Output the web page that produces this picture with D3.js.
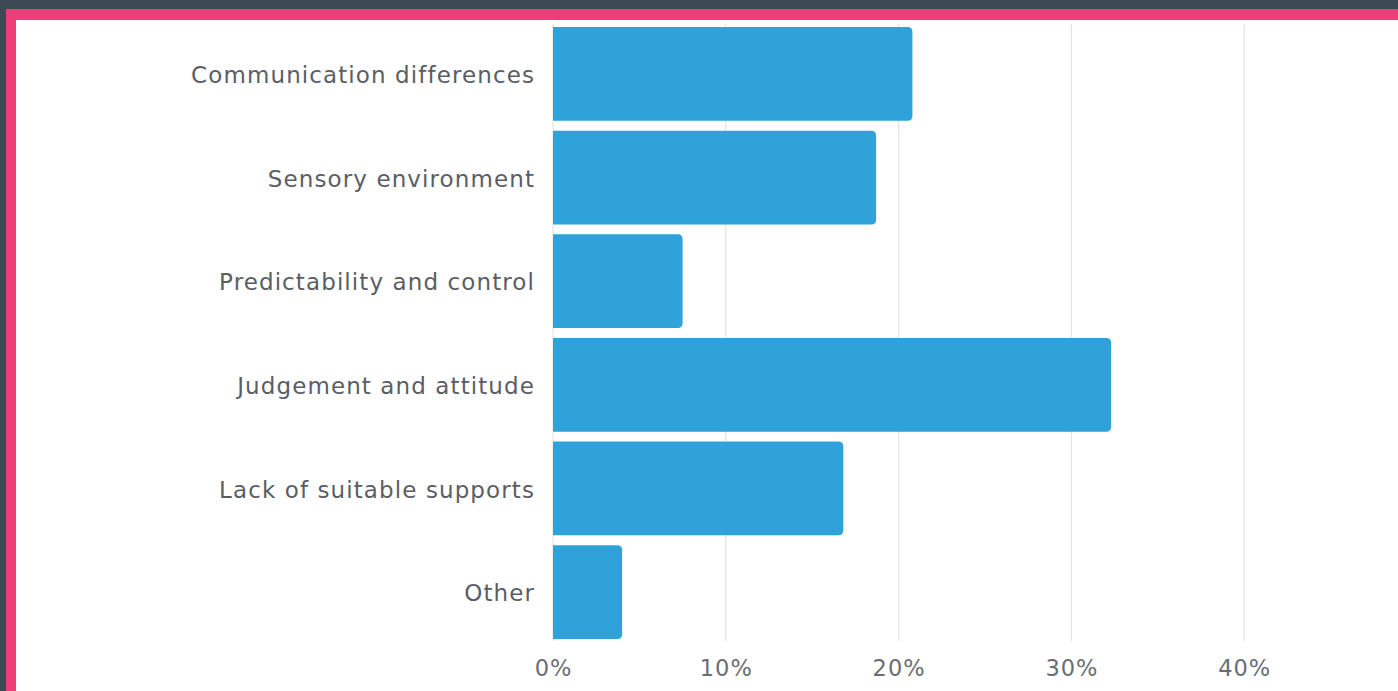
<!DOCTYPE html>
<html>
<head>
<meta charset="utf-8">
<script src="https://cdn.jsdelivr.net/npm/d3@7"></script>
<style>
  html, body { margin: 0; padding: 0; background: #3d4a55; }
  svg { display: block; }
</style>
</head>
<body>
<svg id="chart" width="1398" height="691"></svg>
<script>
const categories = [
  "Communication differences",
  "Sensory environment",
  "Predictability and control",
  "Judgement and attitude",
  "Lack of suitable supports",
  "Other"
];
const shares = [20.8, 18.7, 7.5, 32.3, 16.8, 4.0];
const tickValues = [0, 10, 20, 30, 40];

const svg = d3.select("#chart");
const W = 1398, H = 691;
const FONT = "'DejaVu Sans', 'Open Sans', sans-serif";

// page frame: dark backdrop, pink border, white card
svg.append("rect").attr("x", 0).attr("y", 0).attr("width", W).attr("height", H).attr("fill", "#3d4a55");
svg.append("rect").attr("x", 6).attr("y", 9).attr("width", W - 6).attr("height", H - 9).attr("fill", "#ee3d78");
svg.append("rect").attr("x", 16).attr("y", 20).attr("width", W - 16).attr("height", H - 20).attr("fill", "#ffffff");

const x = d3.scaleLinear().domain([0, 10]).range([553, 725.8]);
const y = d3.scaleBand().domain(categories).range([27, 639]).paddingInner(0.095).paddingOuter(0);

// vertical gridlines
svg.append("g").selectAll("line")
  .data(tickValues)
  .join("line")
  .attr("x1", d => x(d)).attr("x2", d => x(d))
  .attr("y1", 24).attr("y2", 641)
  .attr("stroke", "#e4e4e4")
  .attr("stroke-width", 1.2);

// bars with rounded right-hand corners
const r = 5;
function barPath(d, i) {
  const x0 = x(0), x1 = x(shares[i]);
  const y0 = y(d), h = y.bandwidth();
  const rr = Math.min(r, (x1 - x0) / 2);
  return `M${x0},${y0}H${x1 - rr}Q${x1},${y0} ${x1},${y0 + rr}` +
         `V${y0 + h - rr}Q${x1},${y0 + h} ${x1 - rr},${y0 + h}H${x0}Z`;
}
svg.append("g").selectAll("path")
  .data(categories)
  .join("path")
  .attr("d", barPath)
  .attr("fill", "#2fa2da");

// category labels
svg.append("g").selectAll("text")
  .data(categories)
  .join("text")
  .attr("x", 535)
  .attr("y", d => y(d) + y.bandwidth() / 2 + 1)
  .attr("dy", "0.36em")
  .attr("text-anchor", "end")
  .attr("font-family", FONT)
  .attr("font-size", 23)
  .attr("letter-spacing", 1.1)
  .attr("fill", "#5a5e64")
  .text(d => d);

// x-axis tick labels
svg.append("g").selectAll("text")
  .data(tickValues)
  .join("text")
  .attr("x", d => x(d) + 0.5)
  .attr("y", 668)
  .attr("dy", "0.36em")
  .attr("text-anchor", "middle")
  .attr("font-family", FONT)
  .attr("font-size", 22.5)
  .attr("letter-spacing", 1)
  .attr("fill", "#6a6e74")
  .text(d => d + "%");
</script>
</body>
</html>
